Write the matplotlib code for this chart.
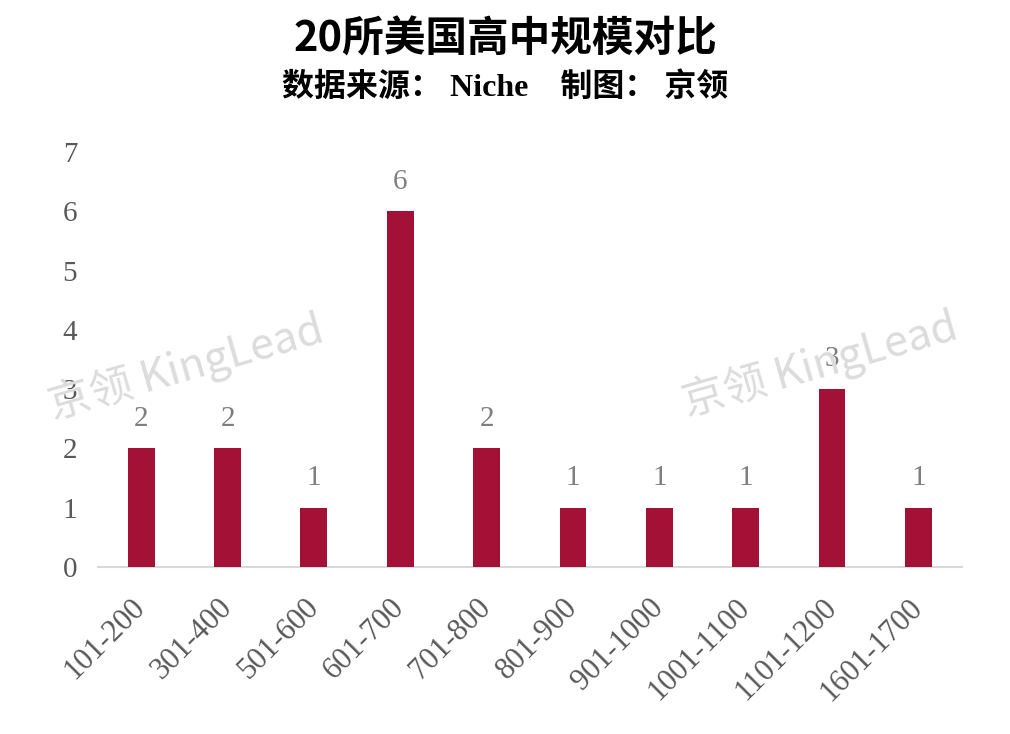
import matplotlib
matplotlib.use('Agg')
from matplotlib import pyplot as plt

# data
categories = ['101-200', '301-400', '501-600', '601-700', '701-800',
              '801-900', '901-1000', '1001-1100', '1101-1200', '1601-1700']
counts = [2, 2, 1, 6, 2, 1, 1, 1, 3, 1]
y_ticks = [0, 1, 2, 3, 4, 5, 6, 7]

plt.rcParams['font.family'] = ['Liberation Serif', 'Noto Sans CJK SC']

fig = plt.figure(figsize=(10.1, 7.34), dpi=100)
ax = fig.add_axes([0.097, 0.2275, 0.855, 0.5655])

x = range(len(categories))
bars = ax.bar(x, counts, width=0.31, color='#A31136', zorder=3)
for b, v in zip(bars, counts):
	ax.text(b.get_x() + b.get_width() / 2, v + 0.5, str(v), ha='center', va='center',
			fontsize=21, color='#7f7f7f', zorder=4)

ax.set_xlim(-0.5, len(categories) - 0.5)
ax.set_ylim(0, 7)
ax.set_yticks(y_ticks)
ax.set_yticklabels([str(t) for t in y_ticks], fontsize=21, color='#595959')
ax.set_xticks(list(x))
ax.set_xticklabels(categories, rotation=45, ha='right', va='center', rotation_mode='anchor',
				   fontsize=22, color='#595959')
ax.tick_params(axis='both', length=0)
ax.tick_params(axis='y', pad=15)
ax.tick_params(axis='x', pad=26)
for side in ['top', 'right', 'left']:
	ax.spines[side].set_visible(False)
ax.spines['bottom'].set_color('#d9d9d9')
ax.spines['bottom'].set_linewidth(1.5)

# titles
fig.text(0.5, 0.946, '20所美国高中规模对比', ha='center', va='center', fontsize=30,
		 fontweight='bold', family=['Noto Sans CJK SC'], color='black')
fig.text(0.5, 0.881, '数据来源： Niche    制图： 京领', ha='center', va='center', fontsize=23,
		 fontweight='bold', family=['Liberation Serif', 'Noto Sans CJK SC'], color='black')

# watermarks
for wx, wy in [(186 / 1010, 1 - 368 / 734), (820 / 1010, 1 - 365 / 734)]:
	fig.text(wx, wy, '京领 KingLead', ha='center', va='center', fontsize=31,
			 rotation=16, color='#dcdcdc', family=['Noto Sans CJK SC'], zorder=0)

fig.savefig('out.png', dpi=100)
